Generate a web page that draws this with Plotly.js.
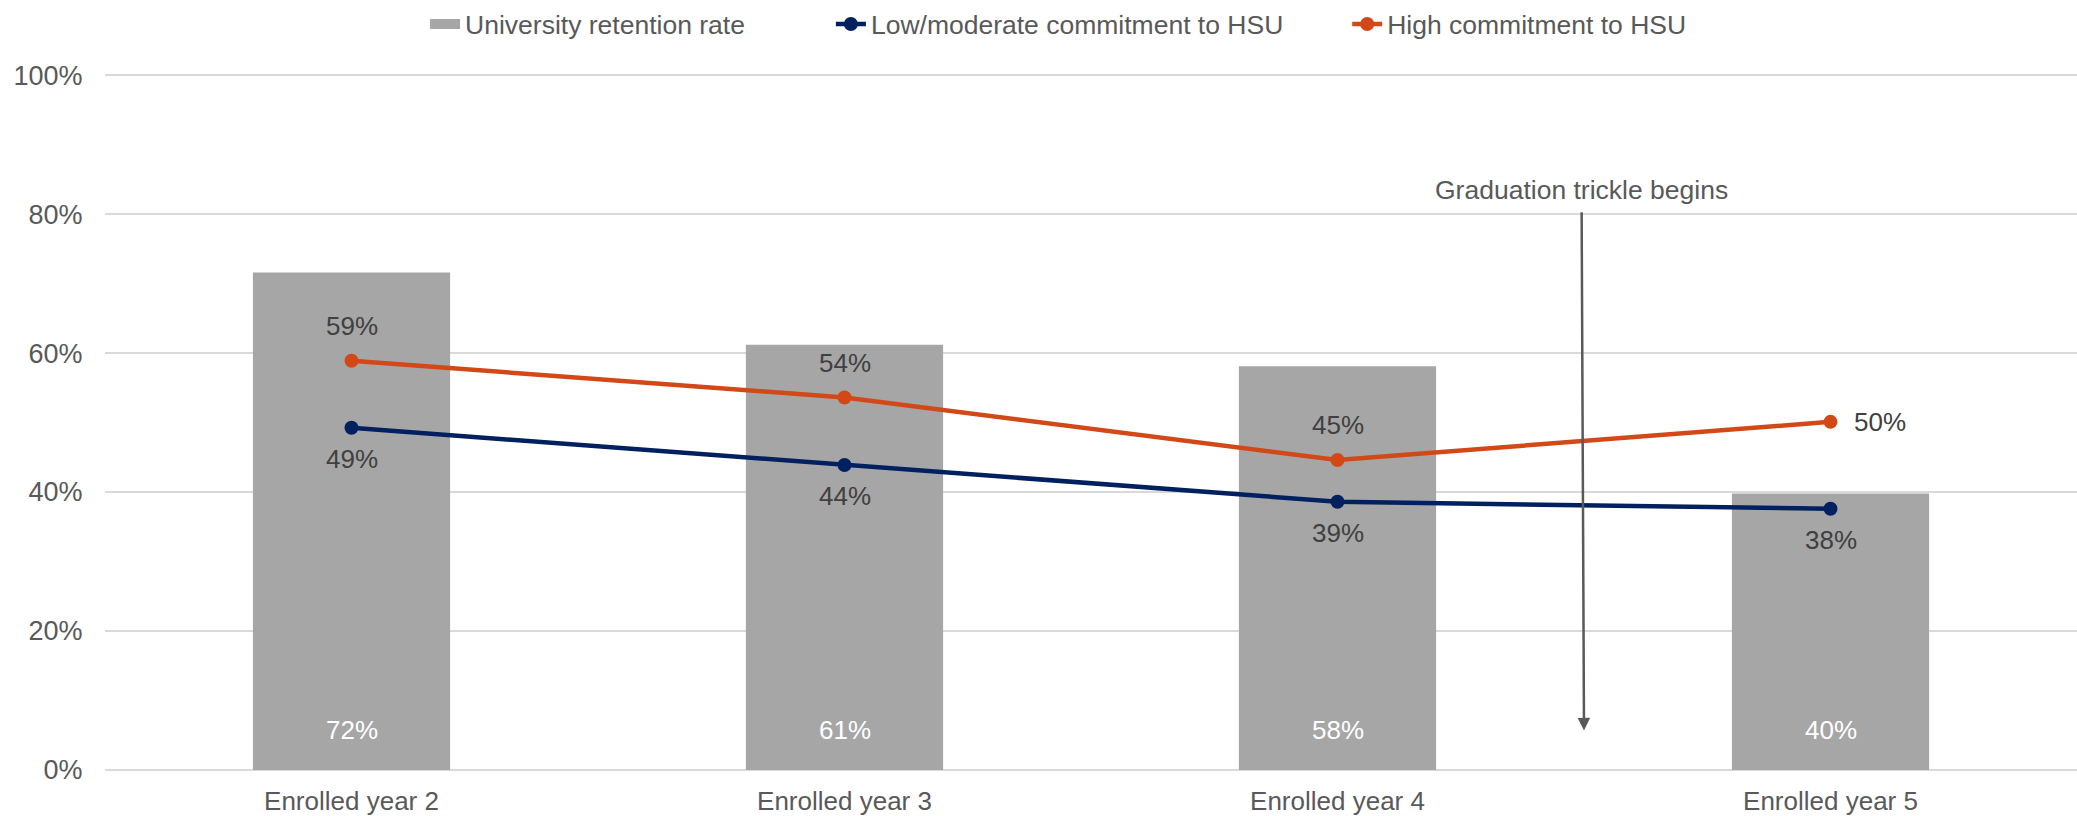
<!DOCTYPE html>
<html>
<head>
<meta charset="utf-8">
<script src="https://cdn.plot.ly/plotly-3.0.1.min.js"></script>
<style>html,body{margin:0;padding:0;background:#fff;}#chart{width:2077px;height:816px;}</style>
</head>
<body>
<div id="chart"></div>
<script>
const categories = ["Enrolled year 2", "Enrolled year 3", "Enrolled year 4", "Enrolled year 5"];
const universityRetention = [0.716, 0.612, 0.581, 0.398];
const lowModerate = [0.4925, 0.439, 0.386, 0.376];
const highCommitment = [0.589, 0.536, 0.446, 0.501];
const yTickVals = [0, 0.2, 0.4, 0.6, 0.8, 1.0];
const yTickText = ["0%", "20%", "40%", "60%", "80%", "100%"];
const seriesNames = ["University retention rate", "Low/moderate commitment to HSU", "High commitment to HSU"];
const annotationText = "Graduation trickle begins";

const FONT = "Liberation Sans, Arial, sans-serif";
const pct = v => Math.round(v * 100) + "%";
const NB = n => "\u00a0".repeat(n);

const GRAY = "#a6a6a6", NAVY = "#002060", ORANGE = "#d34817";

const traces = [
  {
    type: "bar",
    name: seriesNames[0],
    legendgroup: "bar",
    showlegend: false,
    x: categories,
    y: universityRetention,
    marker: {color: GRAY},
    width: 0.4,
    hoverinfo: "skip"
  },
  {
    // legend entry for the bars (wide rectangular swatch)
    type: "scatter",
    mode: "lines",
    name: seriesNames[0] + NB(11),
    legendgroup: "bar",
    x: [null],
    y: [null],
    line: {color: GRAY, width: 18},
    hoverinfo: "skip"
  },
  {
    type: "scatter",
    mode: "lines+markers",
    name: seriesNames[1] + NB(8),
    x: categories,
    y: lowModerate,
    line: {color: NAVY, width: 4.5},
    marker: {color: NAVY, size: 14},
    cliponaxis: false
  },
  {
    type: "scatter",
    mode: "lines+markers",
    name: seriesNames[2],
    x: categories,
    y: highCommitment,
    line: {color: ORANGE, width: 4.5},
    marker: {color: ORANGE, size: 14},
    cliponaxis: false
  }
];

const labelFont = {family: FONT, size: 26, color: "#404040"};
const annotations = [];
categories.forEach((c, i) => {
  annotations.push({
    x: c, y: 0, xref: "x", yref: "y", text: pct(universityRetention[i]),
    showarrow: false, yanchor: "middle", yshift: 40,
    font: {family: FONT, size: 26, color: "#ffffff"}
  });
  annotations.push({
    x: c, y: lowModerate[i], xref: "x", yref: "y", text: pct(lowModerate[i]),
    showarrow: false, yanchor: "middle", yshift: -31, font: labelFont
  });
  const last = i === categories.length - 1;
  annotations.push({
    x: c, y: highCommitment[i], xref: "x", yref: "y", text: pct(highCommitment[i]),
    showarrow: false, yanchor: "middle",
    yshift: last ? 0 : 35, xshift: last ? 49 : 0, font: labelFont
  });
});
annotations.push({
  x: 2.5, y: 0.057, xref: "x", yref: "y",
  ax: 2.495, ay: 0.835, axref: "x", ayref: "y",
  text: annotationText,
  showarrow: true,
  arrowhead: 2,
  arrowsize: 1,
  arrowwidth: 2.5,
  arrowcolor: "#595959",
  standoff: 0,
  startstandoff: 6,
  font: {family: FONT, size: 26.5, color: "#595959"}
});

const layout = {
  width: 2077,
  height: 816,
  margin: {l: 105, r: 0, t: 69, b: 46, pad: 0},
  paper_bgcolor: "#ffffff",
  plot_bgcolor: "#ffffff",
  font: {family: FONT, size: 26, color: "#595959"},
  showlegend: true,
  legend: {
    orientation: "h",
    x: 0.1623,
    xanchor: "left",
    y: 1.07,
    yanchor: "middle",
    font: {family: FONT, size: 26.5, color: "#595959"},
    traceorder: "normal"
  },
  xaxis: {
    type: "category",
    showgrid: false,
    showline: false,
    zeroline: false,
    ticks: "outside",
    ticklen: 8,
    tickcolor: "rgba(0,0,0,0)",
    tickfont: {family: FONT, size: 26, color: "#595959"},
    automargin: false,
    fixedrange: true
  },
  yaxis: {
    range: [0, 1.003],
    tickvals: yTickVals,
    ticktext: yTickText,
    showgrid: true,
    gridcolor: "#d9d9d9",
    gridwidth: 2,
    zeroline: true,
    zerolinecolor: "#d9d9d9",
    zerolinewidth: 2,
    showline: false,
    ticks: "outside",
    ticklen: 16,
    tickcolor: "rgba(0,0,0,0)",
    tickfont: {family: FONT, size: 27, color: "#595959"},
    automargin: false,
    fixedrange: true
  },
  annotations: annotations
};

Plotly.newPlot("chart", traces, layout, {displayModeBar: false, staticPlot: true});
</script>
</body>
</html>
